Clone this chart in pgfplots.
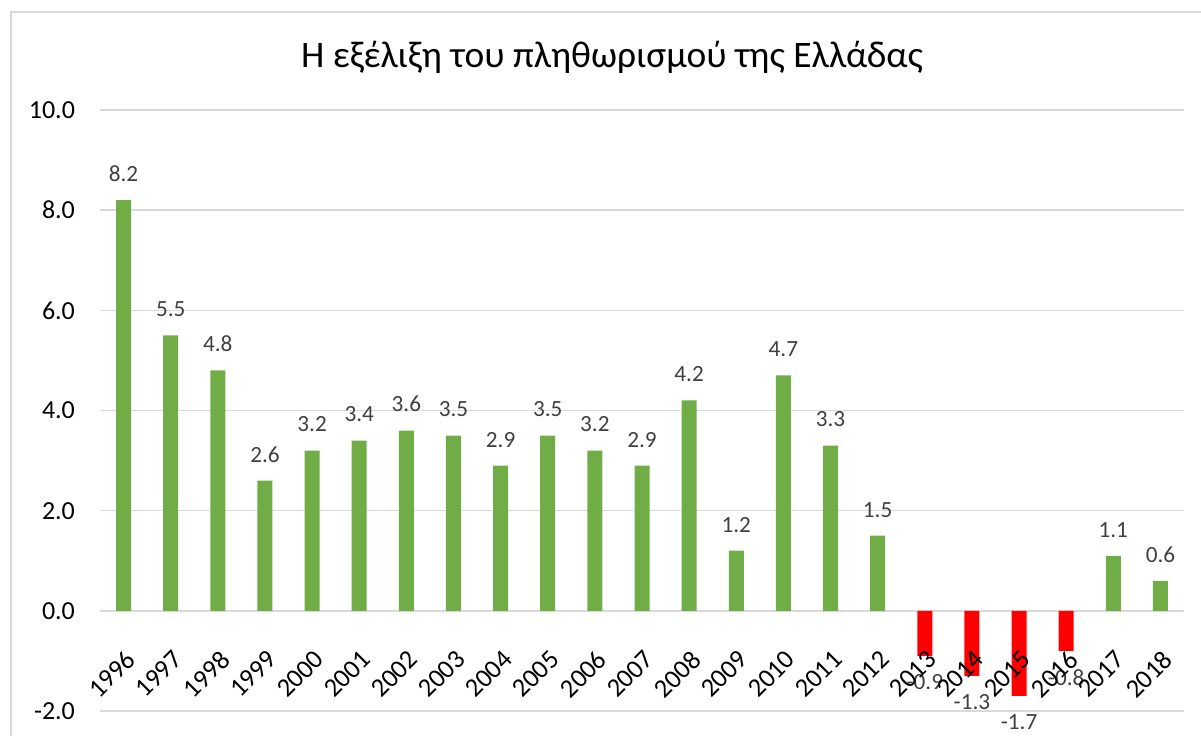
\documentclass[border=0pt]{standalone}
\usepackage{pgfplots}
\pgfplotsset{compat=1.18}
\usepackage{fontspec}
\setmainfont{Carlito}

\definecolor{bargreen}{HTML}{70AD47}
\definecolor{barred}{HTML}{FF0000}
\definecolor{gridgray}{HTML}{D9D9D9}
\definecolor{labelgray}{HTML}{404040}

% common frame of both axes
\pgfplotsset{
    inflframe/.style = {
        at     = {(50pt,-355.5pt)},
        anchor = south west,
        scale only axis,
        width  = 542pt,
        height = 300.5pt,
        xmin = 1995.5, xmax = 2018.5,
        ymin = -2,     ymax = 10,
        axis line style   = {draw=none},
        major tick length = 0pt,
    },
}

% inflation, positive years
\pgfplotstableread{
year  val
1996  8.2
1997  5.5
1998  4.8
1999  2.6
2000  3.2
2001  3.4
2002  3.6
2003  3.5
2004  2.9
2005  3.5
2006  3.2
2007  2.9
2008  4.2
2009  1.2
2010  4.7
2011  3.3
2012  1.5
2017  1.1
2018  0.6
}\positive

% inflation, negative years
\pgfplotstableread{
year  val
2013  -0.9
2014  -1.3
2015  -1.7
2016  -0.8
}\negative

\begin{document}
\begin{tikzpicture}
    % page = 1201 x 735 px, 1 px = 0.5pt
    \path[use as bounding box] (0pt,0pt) rectangle (600.5pt,-367.5pt);
    % chart frame (cut at right and bottom)
    \draw[gridgray, line width=0.75pt] (5.5pt,-370pt) -- (5.5pt,-6pt) -- (605pt,-6pt);

    \node[font=\fontsize{18.7}{22}\selectfont] at (306pt,-28.5pt)
        {Η εξέλιξη του πληθωρισμού της Ελλάδας};

    % bars, grid and y labels
    \begin{axis}[
        inflframe,
        xtick = {1996,...,2018},
        xticklabels = {},
        ytick = {-2,0,...,10},
        ymajorgrids = true,
        grid style  = {gridgray, line width=0.75pt},
        yticklabel style = {
            font = \fontsize{13}{15}\selectfont,
            xshift = -9pt,
            /pgf/number format/.cd, fixed, fixed zerofill, precision=1,
            assume math mode=true
        },
        ybar,
        bar width = 7.5pt,
        bar shift = 0pt,
        nodes near coords,
        nodes near coords align = vertical,
        every node near coord/.append style = {
            font = \fontsize{11.6}{13}\selectfont,
            color = labelgray,
            inner sep = 9pt,
            /pgf/number format/.cd, fixed, fixed zerofill, precision=1,
            assume math mode=true
        },
    ]
        \addplot[fill=bargreen, draw=none] table[x=year, y=val] {\positive};
        \addplot[fill=barred,   draw=none] table[x=year, y=val] {\negative};
    \end{axis}

    % year labels on top of the bars, under the zero line
    % (shift first, then rotate)
    \begin{axis}[
        inflframe,
        xtick = {1996,...,2018},
        ytick = \empty,
        xticklabel style = {
            font = \fontsize{13.2}{15}\selectfont,
            xshift = 0.5pt, yshift = 36pt,
            rotate = 45, anchor = north east,
            /pgf/number format/.cd, 1000 sep={}, assume math mode=true
        },
    ]
    \end{axis}
\end{tikzpicture}
\end{document}
